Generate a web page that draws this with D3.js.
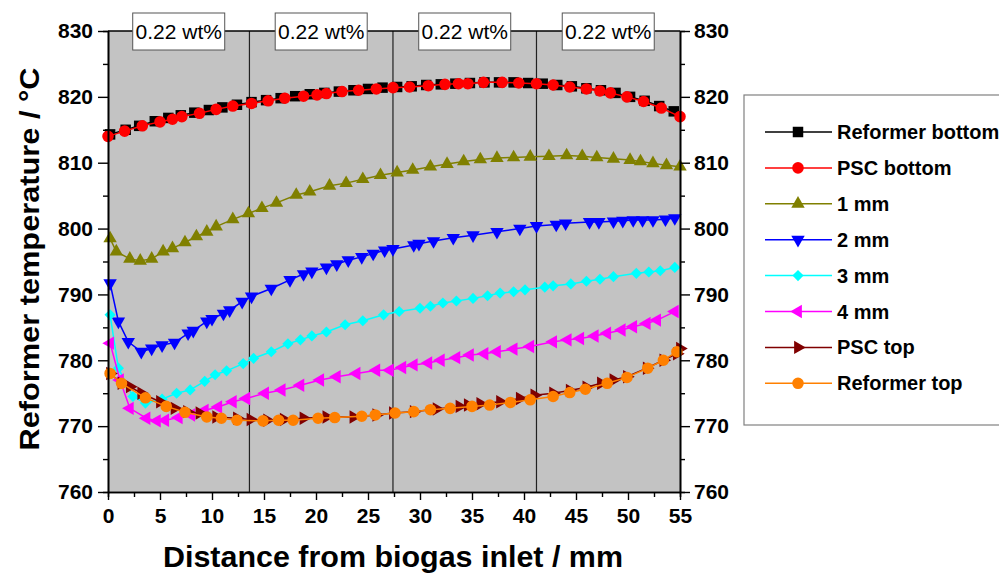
<!DOCTYPE html>
<html>
<head>
<meta charset="utf-8">
<script src="https://cdn.jsdelivr.net/npm/d3@7"></script>
<style>
  body { margin: 0; background: white; }
  svg { display: block; }
  text { font-family: "Liberation Sans", Arial, sans-serif; }
</style>
</head>
<body>
<div id="chart"></div>
<script>
var width = 999, height = 576;

// ---- data ----
var seriesNames = ["Reformer bottom", "PSC bottom", "1 mm", "2 mm", "3 mm", "4 mm", "PSC top", "Reformer top"];

var reformerBottomX = [0.2, 1.7, 3.0, 4.5, 5.8, 7.0, 8.3, 9.7, 11.0, 12.4, 13.8, 15.2, 16.6, 18.0, 19.4, 20.8, 22.2, 23.6, 25.0, 26.4, 27.8, 29.2, 30.6, 32.0, 33.4, 34.8, 36.2, 37.6, 39.0, 40.4, 41.8, 43.2, 44.6, 46.0, 47.4, 48.8, 50.2, 51.6, 53.0, 54.4];
var reformerBottomY = [814.3, 815.0, 815.6, 816.3, 816.8, 817.2, 817.6, 818.0, 818.4, 818.8, 819.2, 819.5, 819.8, 820.1, 820.4, 820.6, 820.8, 821.0, 821.2, 821.4, 821.5, 821.6, 821.8, 821.9, 822.0, 822.1, 822.2, 822.2, 822.2, 822.1, 822.0, 821.8, 821.6, 821.3, 821.0, 820.6, 820.0, 819.4, 818.6, 817.8];

var pscBottomX = [0, 1.6, 3.3, 5.0, 6.2, 7.1, 8.8, 10.4, 12.0, 13.8, 15.4, 17.0, 18.8, 20.1, 21.0, 22.5, 24.1, 25.8, 27.4, 29.0, 30.8, 32.4, 33.7, 34.6, 36.1, 37.9, 39.5, 41.2, 42.8, 44.4, 46.0, 47.3, 48.3, 49.9, 51.5, 53.2, 55.0];
var pscBottomY = [814.0, 814.8, 815.6, 816.2, 816.6, 817.0, 817.5, 818.1, 818.6, 819.0, 819.4, 819.8, 820.1, 820.3, 820.5, 820.8, 821.0, 821.2, 821.4, 821.5, 821.7, 821.9, 822.0, 822.0, 822.2, 822.2, 822.1, 822.0, 821.8, 821.5, 821.2, 820.9, 820.6, 820.0, 819.3, 818.3, 817.0];

var mm1X = [0.2, 0.8, 2.1, 3.1, 4.2, 5.3, 6.2, 7.4, 8.5, 9.5, 10.4, 12.0, 13.5, 14.8, 16.2, 18.1, 19.4, 21.3, 22.9, 24.5, 26.2, 27.8, 29.3, 31.0, 32.6, 34.2, 35.8, 37.4, 39.0, 40.6, 42.4, 44.1, 45.6, 47.0, 48.6, 50.2, 51.2, 52.4, 53.7, 55.0];
var mm1Y = [798.5, 796.5, 795.4, 795.1, 795.4, 796.5, 797.0, 797.9, 798.8, 799.5, 800.3, 801.4, 802.3, 803.1, 803.9, 805.1, 805.6, 806.5, 806.9, 807.5, 808.1, 808.5, 808.9, 809.4, 809.8, 810.2, 810.5, 810.7, 810.8, 810.9, 811.0, 811.1, 811.0, 810.8, 810.6, 810.4, 810.2, 809.9, 809.6, 809.4];

var mm2X = [0.2, 1.0, 1.95, 3.2, 4.2, 5.2, 6.4, 7.7, 8.2, 9.5, 10.0, 11.1, 11.7, 12.9, 13.8, 15.7, 17.5, 18.8, 19.6, 21.0, 22.0, 23.1, 24.4, 25.5, 26.6, 27.4, 29.4, 29.9, 31.3, 33.2, 35.1, 37.4, 39.6, 41.2, 43.1, 44.0, 46.3, 47.2, 48.6, 49.5, 50.5, 51.4, 52.4, 53.6, 54.5];
var mm2Y = [791.7, 785.9, 782.8, 781.3, 781.8, 782.3, 782.7, 784.1, 784.5, 785.9, 786.3, 787.1, 787.6, 788.9, 789.7, 790.9, 792.2, 793.1, 793.5, 794.1, 794.6, 795.2, 795.7, 796.2, 796.7, 796.9, 797.5, 797.7, 798.1, 798.6, 799.0, 799.5, 800.0, 800.4, 800.6, 800.8, 801.0, 801.0, 801.1, 801.2, 801.3, 801.3, 801.3, 801.4, 801.6];

var mm3X = [0.2, 1.0, 2.4, 3.6, 5.2, 6.6, 7.9, 9.3, 10.3, 11.4, 13.0, 14.0, 15.7, 17.3, 18.5, 19.6, 21.0, 22.8, 24.5, 26.5, 28.0, 30.0, 31.0, 32.2, 33.5, 35.1, 36.5, 37.7, 39.0, 40.1, 42.0, 42.8, 44.5, 46.0, 47.3, 48.6, 50.8, 52.0, 53.1, 54.5];
var mm3Y = [786.9, 778.8, 774.5, 773.5, 774.1, 775.0, 775.5, 776.8, 777.8, 778.4, 779.5, 780.3, 781.3, 782.5, 783.1, 783.7, 784.3, 785.4, 786.0, 786.9, 787.4, 787.9, 788.2, 788.7, 789.0, 789.4, 789.8, 790.2, 790.4, 790.7, 791.1, 791.3, 791.6, 792.0, 792.3, 792.7, 793.2, 793.4, 793.6, 794.1];

var mm4X = [0.2, 1.15, 2.1, 3.7, 4.7, 5.5, 6.8, 8.0, 9.3, 10.6, 12.0, 13.3, 15.1, 16.7, 18.5, 20.4, 22.0, 23.9, 25.8, 27.1, 28.3, 29.4, 30.8, 32.0, 33.5, 34.8, 36.2, 37.4, 39.0, 40.6, 42.8, 44.2, 45.4, 46.8, 48.0, 49.4, 50.5, 51.8, 52.8, 54.5];
var mm4Y = [782.6, 777.0, 772.7, 771.2, 770.8, 770.9, 771.3, 771.7, 772.4, 772.9, 773.7, 774.2, 775.0, 775.5, 776.2, 777.0, 777.5, 778.0, 778.5, 778.5, 778.9, 779.3, 779.6, 780.0, 780.4, 780.8, 781.0, 781.3, 781.7, 782.1, 782.8, 783.1, 783.3, 783.7, 784.1, 784.6, 785.1, 785.6, 786.1, 787.4];

var pscTopX = [0.2, 1.3, 2.1, 3.2, 5.0, 6.4, 7.6, 8.8, 10.4, 12.4, 13.7, 15.3, 16.9, 18.8, 21.0, 23.6, 25.8, 27.4, 29.4, 31.6, 33.8, 34.6, 35.8, 37.7, 39.6, 41.0, 42.8, 44.4, 46.0, 47.4, 48.6, 49.9, 51.8, 53.4, 54.7, 55.0];
var pscTopY = [778.0, 776.5, 776.0, 775.0, 773.7, 772.7, 772.2, 772.0, 771.4, 771.2, 771.0, 770.9, 771.0, 771.2, 771.4, 771.4, 771.7, 772.0, 772.2, 772.6, 773.0, 773.2, 773.4, 773.7, 774.2, 774.7, 775.0, 775.4, 775.9, 776.5, 777.0, 777.5, 778.8, 780.0, 781.0, 781.8];

var reformerTopX = [0.2, 1.3, 3.6, 5.6, 7.4, 9.5, 10.9, 12.4, 14.9, 16.4, 17.8, 20.2, 21.8, 24.4, 25.7, 27.6, 29.4, 31.0, 32.9, 35.0, 36.7, 38.7, 40.6, 42.8, 44.4, 45.9, 48.0, 49.9, 51.9, 53.4, 54.7];
var reformerTopY = [778.0, 776.5, 774.3, 773.0, 772.1, 771.4, 771.2, 770.9, 770.8, 770.9, 770.9, 771.2, 771.3, 771.5, 771.7, 772.0, 772.2, 772.5, 772.7, 773.0, 773.2, 773.6, 774.0, 774.5, 775.1, 775.6, 776.5, 777.4, 778.8, 780.0, 781.3];

var xTicks = [0, 5, 10, 15, 20, 25, 30, 35, 40, 45, 50, 55];
var yTicks = [760, 770, 780, 790, 800, 810, 820, 830];
var dividerX = [13.6, 27.4, 41.2];
var segmentLabels = ["0.22 wt%", "0.22 wt%", "0.22 wt%", "0.22 wt%"];

var colors = ["#000000", "#ff0000", "#808000", "#0000ff", "#00ffff", "#ff00ff", "#800000", "#ff8000"];
var shapes = ["square", "circle", "up", "down", "diamond", "left", "right", "circle"];

var series = [
  {x: reformerBottomX, y: reformerBottomY},
  {x: pscBottomX, y: pscBottomY},
  {x: mm1X, y: mm1Y},
  {x: mm2X, y: mm2Y},
  {x: mm3X, y: mm3Y},
  {x: mm4X, y: mm4Y},
  {x: pscTopX, y: pscTopY},
  {x: reformerTopX, y: reformerTopY}
].map(function(s, i) {
  return {
    name: seriesNames[i], color: colors[i], shape: shapes[i],
    points: s.x.map(function(v, j) { return [v, s.y[j]]; })
  };
});

// ---- layout ----
var plotLeft = 108, plotRight = 680, plotTop = 31, plotBottom = 492;

var x = d3.scaleLinear().domain([0, 55]).range([plotLeft, plotRight]);
var y = d3.scaleLinear().domain([760, 830]).range([plotBottom, plotTop]);

var svg = d3.select("#chart").append("svg")
  .attr("width", width)
  .attr("height", height);

svg.append("rect")
  .attr("x", plotLeft).attr("y", plotTop)
  .attr("width", plotRight - plotLeft).attr("height", plotBottom - plotTop)
  .attr("fill", "#c3c3c3");

// divider lines
svg.selectAll(".divider")
  .data(dividerX)
  .enter().append("line")
  .attr("class", "divider")
  .attr("x1", function(d) { return x(d); })
  .attr("x2", function(d) { return x(d); })
  .attr("y1", plotTop).attr("y2", plotBottom)
  .attr("stroke", "#222")
  .attr("stroke-width", 1.2);

function symbolPath(shape) {
  var s;
  if (shape === "square") s = d3.symbol(d3.symbolSquare, 110);
  else if (shape === "circle") s = d3.symbol(d3.symbolCircle, 105);
  else if (shape === "diamond") s = d3.symbol(d3.symbolSquare, 62);
  else s = d3.symbol(d3.symbolTriangle, 78);
  return s();
}
function symbolRotate(shape) {
  if (shape === "down") return 180;
  if (shape === "left") return -90;
  if (shape === "right") return 90;
  if (shape === "diamond") return 45;
  return 0;
}

var line = d3.line()
  .x(function(d) { return x(d[0]); })
  .y(function(d) { return y(d[1]); });

var plot = svg.append("g");

series.forEach(function(s) {
  var g = plot.append("g");
  g.append("path")
    .datum(s.points)
    .attr("d", line)
    .attr("fill", "none")
    .attr("stroke", s.color)
    .attr("stroke-width", 1.5);
  g.selectAll(".pt")
    .data(s.points)
    .enter().append("path")
    .attr("class", "pt")
    .attr("d", symbolPath(s.shape))
    .attr("transform", function(d) {
      return "translate(" + x(d[0]) + "," + y(d[1]) + ") rotate(" + symbolRotate(s.shape) + ")";
    })
    .attr("fill", s.color);
});

// ---- axes ----
function styleAxis(g) {
  g.selectAll("path.domain").attr("stroke", "#000").attr("stroke-width", 1.6);
  g.selectAll(".tick line").attr("stroke", "#000").attr("stroke-width", 1.4);
  g.selectAll("text")
    .attr("font-family", "'Liberation Sans', Arial, sans-serif")
    .attr("font-weight", "bold")
    .attr("font-size", 21)
    .attr("fill", "#000");
}

var minorX = d3.range(2.5, 55, 5);
var minorY = d3.range(765, 830, 10);

svg.append("g")
  .attr("transform", "translate(0," + plotBottom + ")")
  .call(d3.axisBottom(x).tickValues(minorX).tickSize(5).tickFormat(""))
  .call(styleAxis);
svg.append("g")
  .attr("transform", "translate(0," + plotBottom + ")")
  .call(d3.axisBottom(x).tickValues(xTicks).tickSize(8).tickSizeOuter(0).tickPadding(8).tickFormat(d3.format("d")))
  .call(styleAxis);

svg.append("g")
  .attr("transform", "translate(" + plotLeft + ",0)")
  .call(d3.axisLeft(y).tickValues(minorY).tickSize(5).tickFormat(""))
  .call(styleAxis);
svg.append("g")
  .attr("transform", "translate(" + plotLeft + ",0)")
  .call(d3.axisLeft(y).tickValues(yTicks).tickSize(10).tickSizeOuter(0).tickPadding(5).tickFormat(d3.format("d")))
  .call(styleAxis);

svg.append("g")
  .attr("transform", "translate(" + plotRight + ",0)")
  .call(d3.axisRight(y).tickValues(minorY).tickSize(5).tickFormat(""))
  .call(styleAxis);
svg.append("g")
  .attr("transform", "translate(" + plotRight + ",0)")
  .call(d3.axisRight(y).tickValues(yTicks).tickSize(10).tickSizeOuter(0).tickPadding(4).tickFormat(d3.format("d")))
  .call(styleAxis);

svg.append("line")
  .attr("x1", plotLeft).attr("x2", plotRight)
  .attr("y1", plotTop).attr("y2", plotTop)
  .attr("stroke", "#000").attr("stroke-width", 1.6);

// segment labels along the top
var bounds = [0].concat(dividerX).concat([55]);
var labelG = svg.selectAll(".seglabel")
  .data(segmentLabels)
  .enter().append("g")
  .attr("class", "seglabel")
  .attr("transform", function(d, i) {
    return "translate(" + x((bounds[i] + bounds[i + 1]) / 2) + ",13)";
  });
labelG.append("rect")
  .attr("x", -46).attr("y", 0)
  .attr("width", 92).attr("height", 37)
  .attr("fill", "white")
  .attr("stroke", "#555")
  .attr("stroke-width", 1);
labelG.append("text")
  .attr("x", 0).attr("y", 25.5)
  .attr("text-anchor", "middle")
  .attr("font-size", 21)
  .attr("fill", "#000")
  .text(function(d) { return d; });

// axis titles
svg.append("text")
  .attr("x", 393).attr("y", 567)
  .attr("text-anchor", "middle")
  .attr("font-weight", "bold")
  .attr("font-size", 30)
  .attr("textLength", 460)
  .attr("lengthAdjust", "spacingAndGlyphs")
  .text("Distance from biogas inlet / mm");

svg.append("text")
  .attr("transform", "translate(39,259) rotate(-90)")
  .attr("text-anchor", "middle")
  .attr("font-weight", "bold")
  .attr("font-size", 27)
  .attr("textLength", 383)
  .attr("lengthAdjust", "spacingAndGlyphs")
  .text("Reformer temperature / \u00B0C");

// ---- legend ----
var legend = svg.append("g");
legend.append("rect")
  .attr("x", 744).attr("y", 95)
  .attr("width", 280).attr("height", 330)
  .attr("fill", "white")
  .attr("stroke", "#808080")
  .attr("stroke-width", 1.2);

var item = legend.selectAll(".item")
  .data(series)
  .enter().append("g")
  .attr("class", "item")
  .attr("transform", function(d, i) { return "translate(0," + (132 + i * 35.9) + ")"; });
item.append("line")
  .attr("x1", 765).attr("x2", 832)
  .attr("stroke", function(d) { return d.color; })
  .attr("stroke-width", 1.5);
item.append("path")
  .attr("d", function(d) { return symbolPath(d.shape); })
  .attr("transform", function(d) { return "translate(798,0) rotate(" + symbolRotate(d.shape) + ")"; })
  .attr("fill", function(d) { return d.color; });
item.append("text")
  .attr("x", 837).attr("y", 7)
  .attr("font-weight", "bold")
  .attr("font-size", 20)
  .attr("fill", "#000")
  .text(function(d) { return d.name; });
</script>
</body>
</html>
